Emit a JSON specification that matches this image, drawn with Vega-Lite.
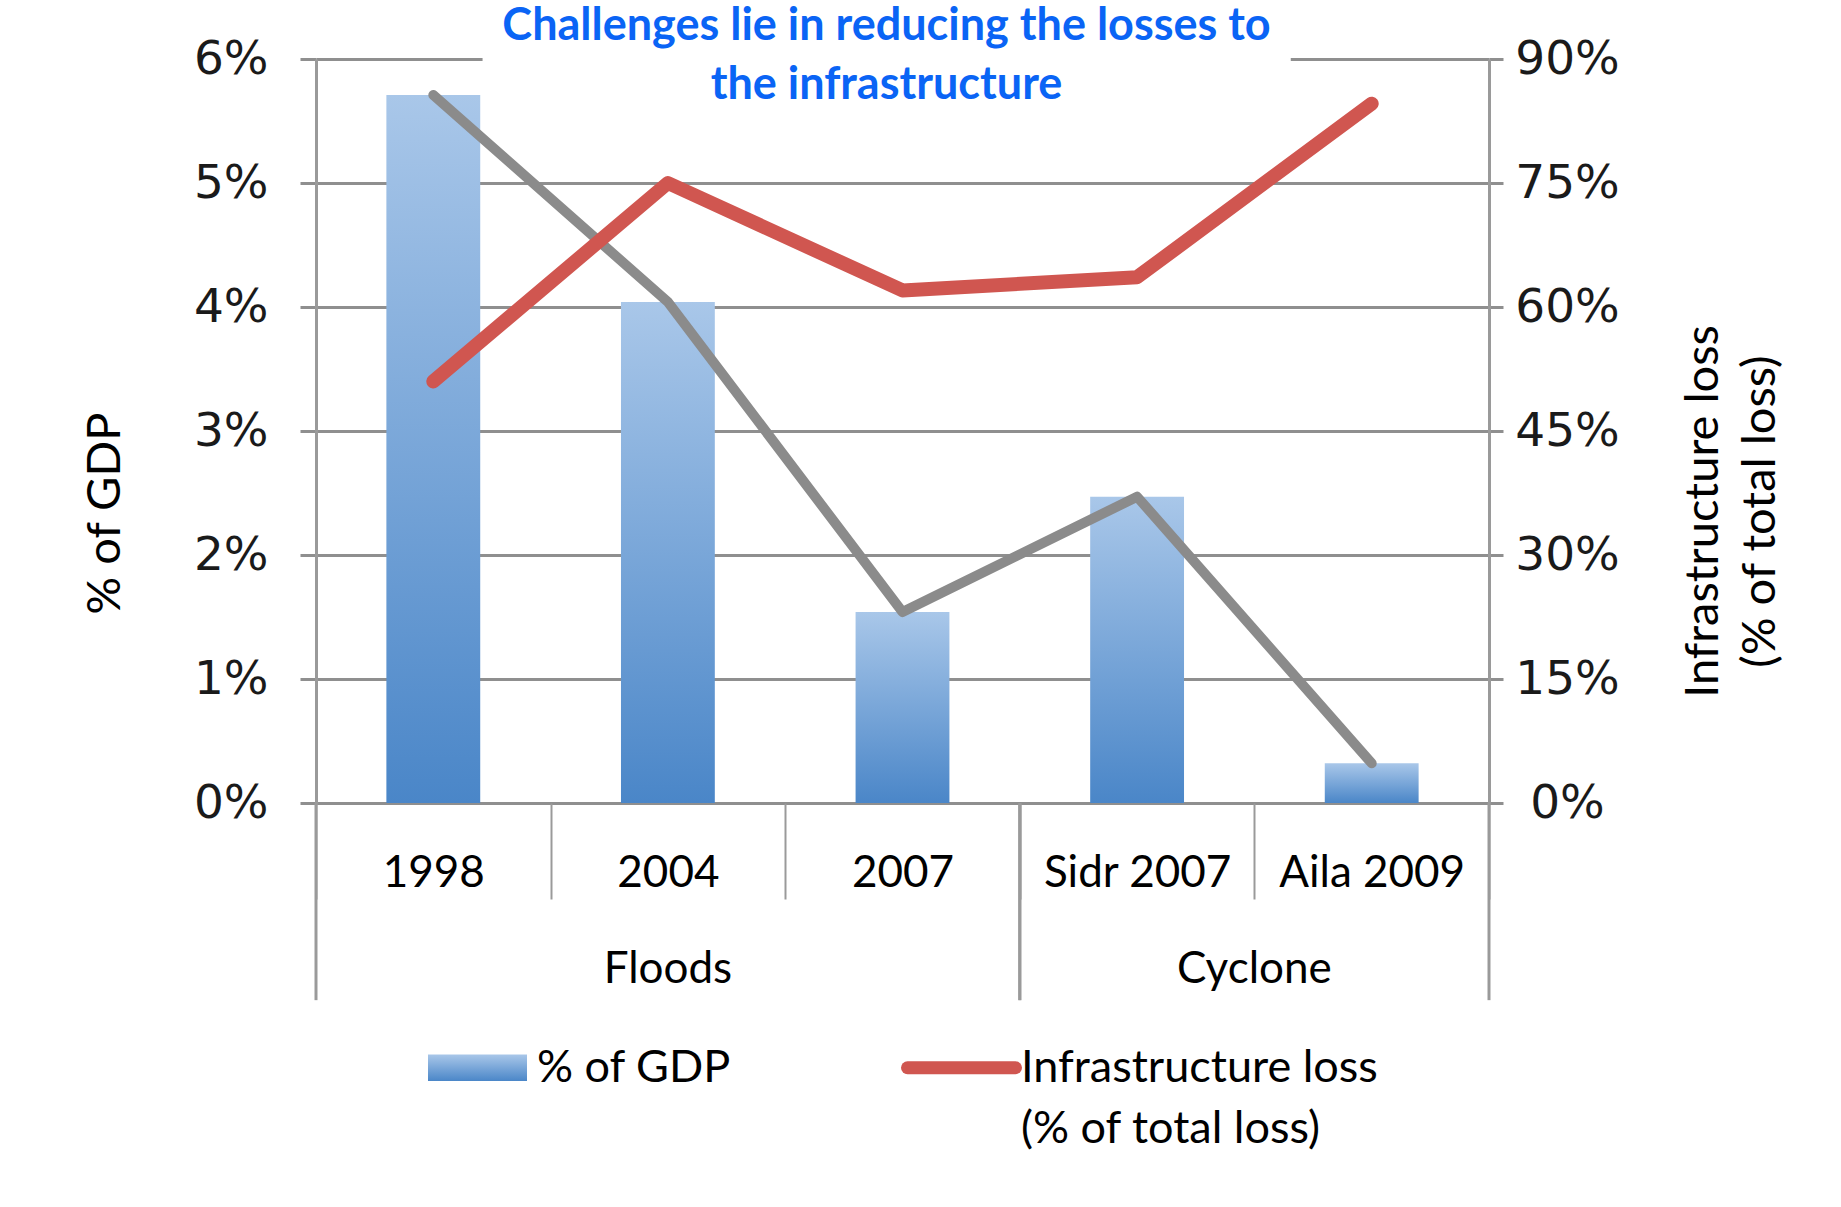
{
  "$schema": "https://vega.github.io/schema/vega-lite/v6.json",
  "width": 1173,
  "height": 744,
  "autosize": {"type": "none"},
  "padding": {"left": 316, "top": 59, "right": 352, "bottom": 404},
  "background": "white",
  "title": {
    "text": ["Challenges lie in reducing the losses to", "the infrastructure"],
    "font": "Lato",
    "fontSize": 45,
    "fontWeight": "bold",
    "color": "#0a64f5",
    "anchor": "middle",
    "lineHeight": 59,
    "offset": -123,
    "dx": -16
  },
  "config": {"view": {"stroke": null}, "font": "Lato"},
  "datasets": {
    "losses": [
      {"cat": "1998", "gdp": 5.71, "infra": 51},
      {"cat": "2004", "gdp": 4.04, "infra": 75},
      {"cat": "2007", "gdp": 1.54, "infra": 62},
      {"cat": "Sidr 2007", "gdp": 2.47, "infra": 63.6},
      {"cat": "Aila 2009", "gdp": 0.32, "infra": 84.6}
    ],
    "groups": [
      {"group": "Floods", "first": "1998", "last": "2007"},
      {"group": "Cyclone", "first": "Sidr 2007", "last": "Aila 2009"}
    ]
  },
  "data": {"name": "losses"},
  "layer": [
    {
      "layer": [
        {
          "mark": {
            "type": "bar",
            "width": {"band": 0.4},
            "fill": {"gradient": "linear", "x1": 0, "y1": 0, "x2": 0, "y2": 1, "stops": [{"offset": 0, "color": "#a9c7e9"}, {"offset": 1, "color": "#4a86c8"}]}
          },
          "encoding": {
            "x": {
              "field": "cat",
              "type": "nominal",
              "sort": null,
              "title": null,
              "scale": {"domain": ["1998", "2004", "2007", "Sidr 2007", "Aila 2009"], "paddingInner": 0, "paddingOuter": 0},
              "axis": {
                "orient": "bottom",
                "tickBand": "extent",
                "ticks": true,
                "tickSize": 96,
                "tickColor": "#9a9a9a",
                "tickWidth": 2,
                "domain": false,
                "grid": false,
                "labelFont": "Lato",
                "labelFontSize": 44,
                "labelColor": "#000000",
                "labelBaseline": "middle",
                "labelPadding": -26,
                "labelAngle": 0,
                "labelOverlap": false,
                "labelLimit": 0
              }
            },
            "y": {
              "field": "gdp",
              "type": "quantitative",
              "scale": {"domain": [0, 6], "nice": false, "zero": true},
              "axis": {
                "orient": "left",
                "values": [0, 1, 2, 3, 4, 5, 6],
                "labelExpr": "datum.value + '%'",
                "grid": true,
                "gridColor": "#8f8f8f",
                "gridWidth": 3,
                "domain": true,
                "domainColor": "#9a9a9a",
                "domainWidth": 3,
                "ticks": true,
                "tickSize": 16,
                "tickColor": "#8f8f8f",
                "tickWidth": 3,
                "labelFont": "DejaVu Sans",
                "labelFontSize": 47,
                "labelColor": "#1a1a1a",
                "labelPadding": 32,
                "labelFlush": false,
                "labelOverlap": false,
                "title": "% of GDP",
                "titleFont": "Lato",
                "titleFontSize": 47,
                "titleFontWeight": "normal",
                "titleColor": "#000000",
                "titleAngle": 270,
                "titleAlign": "center",
                "titleBaseline": "middle",
                "titleX": -211,
                "titleY": 454
              }
            }
          }
        },
        {
          "data": {"values": [{"box": "title"}]},
          "mark": {"type": "rect", "color": "white"},
          "encoding": {
            "x": {"datum": "1998", "bandPosition": 0.71, "title": null},
            "x2": {"datum": "Aila 2009", "bandPosition": 0.155},
            "y": {"datum": 5.52},
            "y2": {"datum": 6.6}
          }
        },
        {
          "mark": {"type": "line", "color": "#8b8b8b", "strokeWidth": 10, "strokeCap": "round", "strokeJoin": "round"},
          "encoding": {
            "x": {"field": "cat", "type": "nominal", "sort": null, "title": null},
            "y": {"field": "gdp", "type": "quantitative"}
          }
        },
        {
          "data": {"name": "groups"},
          "mark": {"type": "rule", "color": "#9a9a9a", "strokeWidth": 3},
          "encoding": {
            "x": {"field": "first", "type": "nominal", "bandPosition": 0, "title": null},
            "y": {"datum": 0},
            "y2": {"datum": -1.59}
          }
        },
        {
          "data": {"name": "groups"},
          "mark": {"type": "rule", "color": "#9a9a9a", "strokeWidth": 3},
          "encoding": {
            "x": {"field": "last", "type": "nominal", "bandPosition": 1, "title": null},
            "y": {"datum": 0},
            "y2": {"datum": -1.59}
          }
        },
        {
          "data": {"name": "groups"},
          "transform": [{"filter": "datum.group === 'Floods'"}],
          "mark": {"type": "text", "font": "Lato", "fontSize": 44, "color": "#000000", "baseline": "middle"},
          "encoding": {
            "x": {"datum": "2004", "bandPosition": 0.5, "title": null},
            "y": {"datum": -1.35},
            "text": {"field": "group"}
          }
        },
        {
          "data": {"name": "groups"},
          "transform": [{"filter": "datum.group === 'Cyclone'"}],
          "mark": {"type": "text", "font": "Lato", "fontSize": 44, "color": "#000000", "baseline": "middle"},
          "encoding": {
            "x": {"datum": "Aila 2009", "bandPosition": 0, "title": null},
            "y": {"datum": -1.35},
            "text": {"field": "group"}
          }
        }
      ]
    },
    {
      "mark": {"type": "line", "strokeWidth": 14, "strokeCap": "round", "strokeJoin": "round"},
      "encoding": {
        "x": {"field": "cat", "type": "nominal", "sort": null, "title": null},
        "y": {
          "field": "infra",
          "type": "quantitative",
          "scale": {"domain": [0, 90], "nice": false},
          "axis": {
            "orient": "right",
            "values": [0, 15, 30, 45, 60, 75, 90],
            "labelExpr": "datum.value + '%'",
            "grid": false,
            "domain": true,
            "domainColor": "#9a9a9a",
            "domainWidth": 3,
            "ticks": true,
            "tickSize": 14,
            "tickColor": "#8f8f8f",
            "tickWidth": 3,
            "labelFont": "DejaVu Sans",
            "labelFontSize": 47,
            "labelColor": "#1a1a1a",
            "labelAlign": "center",
            "labelPadding": 64,
            "labelFlush": false,
            "labelOverlap": false,
            "title": ["Infrastructure loss", "(% of total loss)"],
            "titleFont": "Lato",
            "titleFontSize": 47,
            "titleFontWeight": "normal",
            "titleColor": "#000000",
            "titleAngle": 270,
            "titleAlign": "center",
            "titleBaseline": "middle",
            "titleLineHeight": 57,
            "titleX": 214,
            "titleY": 452
          }
        },
        "color": {
          "datum": "Infrastructure loss",
          "type": "nominal",
          "scale": {"domain": ["% of GDP", "Infrastructure loss"], "range": ["#7fa9d9", "#d05650"]},
          "legend": {
            "orient": "none",
            "legendX": 139,
            "legendY": 986,
            "direction": "horizontal",
            "title": null,
            "labelFont": "Lato",
            "labelFontSize": 45,
            "labelColor": "#000000",
            "labelLimit": 0,
            "labelOffset": 37,
            "columnPadding": 149,
            "symbolSize": 11664,
            "symbolStrokeWidth": 13,
            "labelExpr": "datum.label == '% of GDP' ? ['% of GDP', ''] : ['Infrastructure loss', '(% of total loss)']",
            "encode": {
              "labels": {
                "update": {
                  "lineHeight": {"value": 61}
                }
              },
              "symbols": {
                "update": {
                  "shape": {"signal": "datum.value == '% of GDP' ? 'M-1,-0.27H1V0.27H-1Z' : 'stroke'"},
                  "size": {"signal": "datum.value == '% of GDP' ? 9801 : 11664"},
                  "stroke": {"signal": "datum.value == '% of GDP' ? 'transparent' : '#d05650'"},
                  "strokeWidth": {"signal": "datum.value == '% of GDP' ? 0 : 13"},
                  "strokeCap": {"value": "round"},
                  "opacity": {"value": 1},
                  "fill": {"signal": "datum.value == '% of GDP' ? {gradient: 'linear', x1: 0, y1: 0, x2: 0, y2: 1, stops: [{offset: 0, color: '#a9c7e9'}, {offset: 1, color: '#4a86c8'}]} : 'transparent'"}
                }
              }
            }
          }
        }
      }
    }
  ],
  "resolve": {"scale": {"y": "independent"}}
}
